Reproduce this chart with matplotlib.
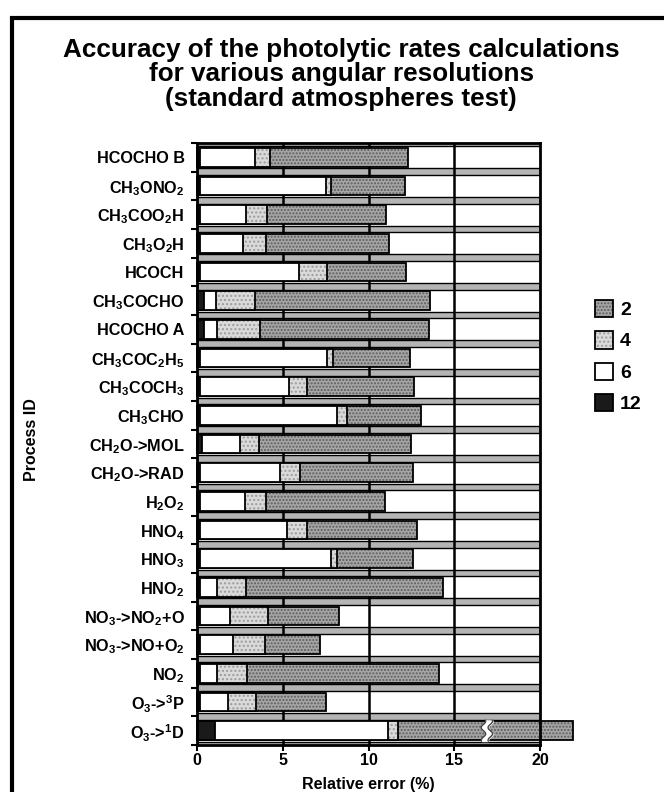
import numpy as np
import matplotlib.pyplot as plt
from matplotlib.patches import Rectangle

plt.rcParams['font.family'] = ['Liberation Sans', 'DejaVu Sans']
plt.rcParams['font.weight'] = 'bold'
plt.rcParams['mathtext.fontset'] = 'custom'
plt.rcParams['mathtext.rm'] = 'Liberation Sans:bold'
plt.rcParams['mathtext.it'] = 'Liberation Sans:bold'
plt.rcParams['mathtext.bf'] = 'Liberation Sans:bold'
plt.rcParams['hatch.linewidth'] = 1.0

# processes, top to bottom
processes = ['HCOCHO B', 'CH$_3$ONO$_2$', 'CH$_3$COO$_2$H', 'CH$_3$O$_2$H', 'HCOCH',
             'CH$_3$COCHO', 'HCOCHO A', 'CH$_3$COC$_2$H$_5$', 'CH$_3$COCH$_3$', 'CH$_3$CHO',
             'CH$_2$O->MOL', 'CH$_2$O->RAD', 'H$_2$O$_2$', 'HNO$_4$', 'HNO$_3$', 'HNO$_2$',
             'NO$_3$->NO$_2$+O', 'NO$_3$->NO+O$_2$', 'NO$_2$', 'O$_3$->$^3$P', 'O$_3$->$^1$D']

# relative error (%) for each angular resolution
err2 = [12.32, 12.13, 11.02, 11.2, 12.19, 13.6, 13.55, 12.42, 12.67, 13.04, 12.48,
        12.57, 10.98, 12.85, 12.62, 14.36, 8.3, 7.17, 14.13, 7.5, 21.95]
err4 = [4.26, 7.8, 4.1, 4.0, 7.56, 3.38, 3.7, 7.95, 6.43, 8.76, 3.64,
        6.0, 4.02, 6.43, 8.14, 2.86, 4.14, 3.94, 2.94, 3.44, 11.74]
err6 = [3.38, 7.52, 2.84, 2.7, 5.93, 1.1, 1.15, 7.56, 5.38, 8.18, 2.5,
        4.84, 2.82, 5.23, 7.83, 1.19, 1.92, 2.12, 1.15, 1.79, 11.15]
err12 = [0.2, 0.2, 0.2, 0.2, 0.2, 0.4, 0.4, 0.2, 0.2, 0.2, 0.3,
         0.2, 0.2, 0.2, 0.2, 0.2, 0.2, 0.2, 0.2, 0.2, 1.05]
resolutions = ['2', '4', '6', '12']

brk = 16.9  # axis break drawn on the O3->1D bar

fig = plt.figure(figsize=(6.64, 7.92), dpi=100)
ax = fig.add_axes([0.2967, 0.0593, 0.5166, 0.7601])

n = len(processes)
y = np.arange(n)
h = 0.66

# separator bands between rows
for b in np.arange(-0.5, n, 1.0):
    ax.axhspan(b - 0.12, b + 0.12, facecolor='#b4b4b4', edgecolor='black', lw=1.0, zorder=1)
for gx in [5, 10, 15]:
    ax.axvline(gx, color='black', lw=1.8, zorder=1.5)

styles = [('#a6a6a6', '#5c5c5c', '.....'),
          ('#dadada', '#9c9c9c', '....'),
          ('white', 'white', None),
          ('#1a1a1a', '#1a1a1a', None)]
handles = []
for vals, (fc, hc, hat), z in zip([err2, err4, err6, err12], styles, [2, 3, 4, 5]):
    b1 = ax.barh(y, vals, height=h, color=fc, edgecolor=hc, hatch=hat, lw=0,
                 zorder=z, clip_on=False)
    b2 = ax.barh(y, vals, height=h, facecolor='none', edgecolor='black', lw=1.3,
                 zorder=z + 0.5, clip_on=False)
    handles.append((b1[0], b2[0]))

# break mark on the long bar
yy = np.linspace(y[-1] - h / 2 - 0.03, y[-1] + h / 2 + 0.03, 60)
xx = brk + 0.13 * np.sin((yy - y[-1]) * 3 * np.pi / h)
ax.fill_betweenx(yy, xx - 0.2, xx + 0.2, color='white', zorder=7, clip_on=False)
ax.plot(xx - 0.2, yy, color='#444444', lw=1.0, zorder=8, clip_on=False)
ax.plot(xx + 0.2, yy, color='#444444', lw=1.0, zorder=8, clip_on=False)

ax.set_xlim(0, 20)
ax.set_ylim(n - 0.5, -0.5)
ax.set_xticks([0, 5, 10, 15, 20])
ax.set_yticks(y)
ax.set_yticklabels(processes, fontsize=11.7, fontweight='bold')
ax.set_yticks(np.arange(-0.5, n, 1.0), minor=True)
ax.tick_params(axis='y', which='major', length=0, pad=9)
ax.tick_params(axis='y', which='minor', length=4, width=1.5, direction='out')
ax.tick_params(axis='x', length=4, width=1.5, direction='out', labelsize=11.5, pad=2)
for lab in ax.get_xticklabels():
    lab.set_fontweight('bold')
for sp in ax.spines.values():
    sp.set_linewidth(2)
    sp.set_zorder(9)

ax.set_xlabel('Relative error (%)', fontsize=11.5, fontweight='bold', labelpad=6)
fig.text(32 / 664, 1 - 440 / 792, 'Process ID', rotation=90, fontsize=11.5,
         fontweight='bold', ha='center', va='center')

fig.text(0.514, 1 - 38 / 792,
         'Accuracy of the photolytic rates calculations\n'
         'for various angular resolutions\n(standard atmospheres test)',
         ha='center', va='top', fontsize=18.8, fontweight='bold', linespacing=1.02)

fig.legend(handles, resolutions, loc='upper left', bbox_to_anchor=(585 / 664, 1 - 290 / 792),
           frameon=False, prop={'size': 14, 'weight': 'bold'}, handlelength=0.95,
           handleheight=1.0, handletextpad=0.35, labelspacing=0.62, borderpad=0)

# outer frame of the figure panel
fig.patches.append(Rectangle((12 / 664, -0.05), 1.1, 1 - 18 / 792 + 0.05,
                             transform=fig.transFigure, fill=False,
                             edgecolor='black', lw=3))

fig.savefig('out.png', dpi=100)
